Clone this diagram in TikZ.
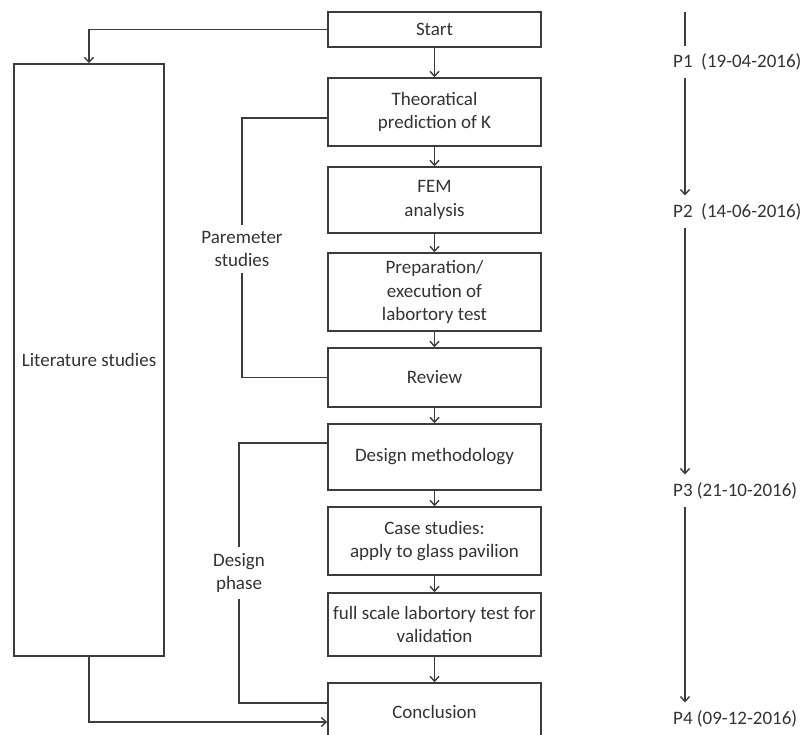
\documentclass[tikz,border=0pt]{standalone}
\usepackage{fontspec}
\setmainfont{Carlito}
\usetikzlibrary{arrows.meta,calc}
\definecolor{ln}{HTML}{3C3C3C}
\definecolor{tx}{HTML}{333333}
\begin{document}
\begin{tikzpicture}[x=1pt,y=-1pt,
  every node/.style={font=\fontsize{19}{23.5}\selectfont, text=tx, inner sep=0pt},
  stepbox/.style={draw=ln, line width=1.4pt, minimum width=213pt, align=center},
  litbox/.style={draw=ln, line width=1.4pt, minimum width=150pt, minimum height=592pt},
  conn/.style={draw=ln, line width=1.4pt},
  arr/.style={conn, -{Straight Barb[length=5pt,width=9pt]}},
  lbl/.style={align=center, inner ysep=6pt},
  milestone/.style={anchor=west, inner ysep=8pt}]
\useasboundingbox (0,0) rectangle (807,735);
\clip (0,0) rectangle (807,735);

% main column
\node[stepbox, minimum height=35pt] (start) at (434.5,29.5) {Start};
\node[stepbox, minimum height=68pt] (theo) at (434.5,112) {Theoratical\\prediction of K};
\node[stepbox, minimum height=66pt] (fem) at (434.5,200) {FEM\\analysis};
\node[stepbox, minimum height=78pt] (prep) at (434.5,292) {Preparation/\\execution of\\labortory test};
\node[stepbox, minimum height=59pt] (review) at (434.5,377.5) {Review};
\node[stepbox, minimum height=66pt] (design) at (434.5,457) {Design methodology};
\node[stepbox, minimum height=68pt] (case) at (434.5,541) {Case studies:\\apply to glass pavilion};
\node[stepbox, minimum height=63pt] (full) at (434.5,624.5) {full scale labortory test for\\validation};
\node[stepbox, minimum height=58pt] (concl) at (434.5,712) {Conclusion};

% literature
\node[litbox] (lit) at (89,360) {Literature studies};

% arrows in main column
\draw[arr] (start) -- (theo);
\draw[arr] (theo) -- (fem);
\draw[arr] (fem) -- (prep);
\draw[arr] (prep) -- (review);
\draw[arr] (review) -- (design);
\draw[arr] (design) -- (case);
\draw[arr] (case) -- (full);
\draw[arr] (full) -- (concl);

% start -> literature
\draw[arr] (start.west) -| (lit.north);
% literature -> conclusion
\draw[arr] (lit.south) |- ($(concl.west)+(0,10)$);

% parameter studies bracket
\node[lbl] (par) at (242,249) {Paremeter\\studies};
\draw[conn] ($(theo.west)+(0,6)$) -| (par.north);
\draw[conn] (par.south) |- (review.west);

% design phase bracket
\node[lbl] (dph) at (239,573) {Design\\phase};
\draw[conn] ($(design.west)+(0,-14)$) -| (dph.north);
\draw[conn] (dph.south) |- ($(concl.west)+(0,-9)$);

% timeline
\coordinate (t0) at (685,12);
\node[milestone] (p1) at (673,62) {P1\ \ (19-04-2016)};
\node[milestone] (p2) at (673,212) {P2\ \ (14-06-2016)};
\node[milestone] (p3) at (673,491) {P3 (21-10-2016)};
\node[milestone] (p4) at (673,719) {P4 (09-12-2016)};
\draw[conn] (t0) -- (p1.north -| t0);
\draw[arr] (p1.south -| t0) -- (p2.north -| t0);
\draw[arr] (p2.south -| t0) -- (p3.north -| t0);
\draw[arr] (p3.south -| t0) -- (p4.north -| t0);
\end{tikzpicture}
\end{document}
